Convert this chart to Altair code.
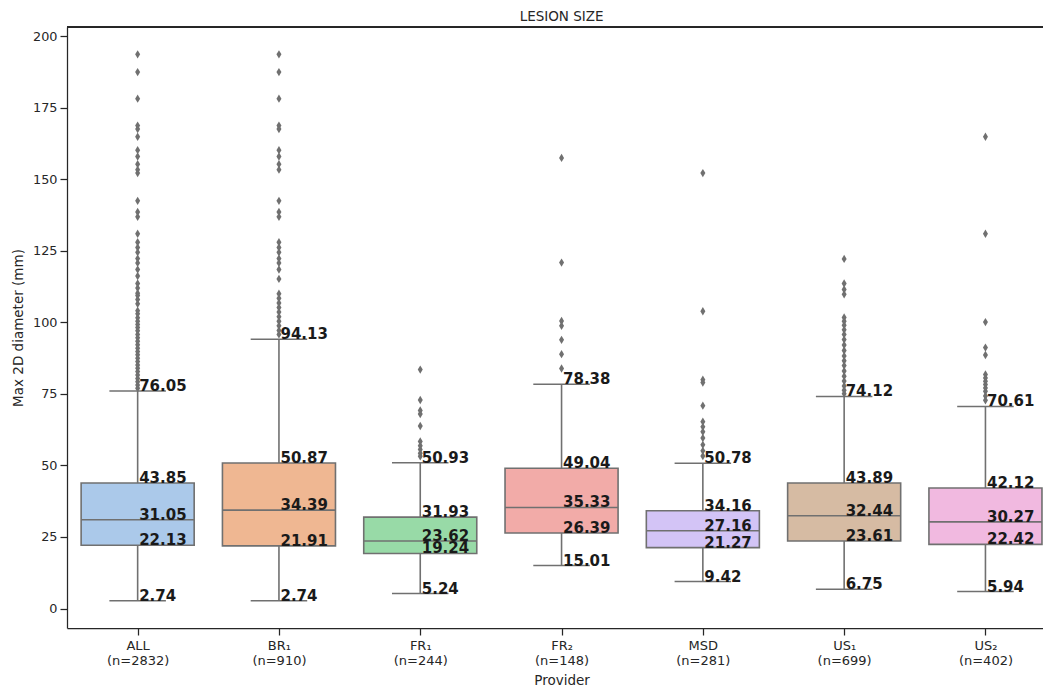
import colorsys

import altair as alt
import pandas as pd

# ---- box statistics per provider -------------------------------------------
providers = ["ALL", "BR₁", "FR₁", "FR₂", "MSD", "US₁", "US₂"]
counts = [2832, 910, 244, 148, 281, 699, 402]
whisker_low = [2.74, 2.74, 5.24, 15.01, 9.42, 6.75, 5.94]
q1 = [22.13, 21.91, 19.24, 26.39, 21.27, 23.61, 22.42]
median = [31.05, 34.39, 23.62, 35.33, 27.16, 32.44, 30.27]
q3 = [43.85, 50.87, 31.93, 49.04, 34.16, 43.89, 42.12]
whisker_high = [76.05, 94.13, 50.93, 78.38, 50.78, 74.12, 70.61]

# ---- fliers (values beyond the upper whisker) ------------------------------
fliers_all = [193.7, 187.5, 178.2, 168.8, 167.6, 164.9, 160.2, 158.0, 155.3,
              153.4, 152.2, 142.5, 138.6, 136.9, 131.0, 128.0, 126.2, 124.5,
              122.3, 120.8, 118.5, 116.2, 113.6, 112.0, 110.2, 109.4, 108.0,
              106.5, 104.1, 103.0, 101.6, 100.4, 99.3, 98.2, 97.1, 95.8, 94.6,
              93.4, 92.2, 91.0, 89.8, 88.7, 87.5, 86.3, 85.1, 84.0, 82.8, 81.6,
              80.4, 79.3, 78.1, 77.0]
fliers_br1 = [193.7, 187.5, 178.2, 168.8, 167.6, 160.2, 158.0, 155.3, 153.4,
              142.5, 138.6, 136.9, 128.0, 126.2, 124.5, 122.3, 120.8, 118.5,
              115.2, 110.0, 108.4, 106.8, 105.2, 103.6, 102.0, 100.4, 98.8,
              97.2, 95.8]
fliers_fr1 = [83.5, 72.9, 69.2, 68.0, 63.8, 58.4, 56.9, 55.6, 54.3, 53.2]
fliers_fr2 = [157.5, 120.9, 100.5, 98.8, 93.9, 88.9, 83.9]
fliers_msd = [152.2, 103.9, 80.0, 79.0, 70.9, 65.3, 63.5, 61.8, 59.6, 57.2,
              55.1, 53.3]
fliers_us1 = [122.2, 113.6, 111.5, 109.8, 101.7, 100.4, 99.0, 97.4, 95.8, 94.0,
              92.1, 90.2, 88.3, 86.6, 84.9, 83.0, 81.2, 79.5, 77.8, 76.3, 75.1]
fliers_us2 = [164.9, 131.0, 100.1, 91.2, 88.6, 81.8, 80.6, 79.4, 78.3, 77.1,
              75.9, 74.3, 72.8]
fliers = [fliers_all, fliers_br1, fliers_fr1, fliers_fr2, fliers_msd,
          fliers_us1, fliers_us2]

# seaborn "pastel" palette, desaturated the way boxplot does (0.75)
pastel = ["#a1c9f4", "#ffb482", "#8de5a1", "#ff9f9b", "#d0bbff", "#debb9b",
          "#fab0e4"]


def desaturate(hex_color, prop=0.75):
    r, g, b = (int(hex_color[i:i + 2], 16) / 255 for i in (1, 3, 5))
    h, l, s = colorsys.rgb_to_hls(r, g, b)
    r, g, b = colorsys.hls_to_rgb(h, l, s * prop)
    return "#{:02x}{:02x}{:02x}".format(*(round(c * 255) for c in (r, g, b)))


GRAY = "#707070"
INK = "#262626"
FONT = "DejaVu Sans"
PLOT_W, PLOT_H = 976, 601
STEP = 141.3                       # pixels per category
X_MAX = -0.5 + PLOT_W / STEP

pos = list(range(len(providers)))
boxes = pd.DataFrame({
    "pos": pos,
    "provider": providers,
    "lo": whisker_low, "q1": q1, "median": median, "q3": q3,
    "hi": whisker_high,
    "color": [desaturate(c) for c in pastel],
})
boxes["left"] = boxes["pos"] - 0.4
boxes["right"] = boxes["pos"] + 0.4
boxes["cap_l"] = boxes["pos"] - 0.2
boxes["cap_r"] = boxes["pos"] + 0.2

flier_df = pd.DataFrame(
    [{"pos": i, "value": v} for i, vals in enumerate(fliers) for v in vals]
)

label_df = pd.DataFrame(
    [{"pos": i, "value": v}
     for i in pos
     for v in (whisker_low[i], q1[i], median[i], q3[i], whisker_high[i])]
)

xscale = alt.Scale(domain=[-0.5, X_MAX], nice=False, zero=False)
yscale = alt.Scale(domain=[-6.81, 203.25], nice=False, zero=False)

tick_text = ",".join(
    f"['{p}','(n={n})']" for p, n in zip(providers, counts)
)
xaxis = alt.Axis(
    values=pos, labelExpr=f"[{tick_text}][datum.value]",
    labelOverlap=False, labelFlush=False, tickSize=7, labelPadding=4,
    labelLineHeight=15, labelFontSize=13,
    titleX=494.6, titleY=52, titleBaseline="middle", titleAlign="center",
)
yaxis = alt.Axis(
    values=list(range(0, 201, 25)), tickSize=7, labelPadding=3,
    labelFontSize=12.8, labelFlush=False,
    titleX=-49, titleY=300.5, titleAngle=270, titleBaseline="middle",
    titleAlign="center",
)
X_TITLE = "Provider"
Y_TITLE = "Max 2D diameter (mm)"


def xenc(field):
    return alt.X(field, type="quantitative", scale=xscale, axis=xaxis,
                 title=X_TITLE)


def yenc(field):
    return alt.Y(field, type="quantitative", scale=yscale, axis=yaxis,
                 title=Y_TITLE)


base = alt.Chart(boxes)

box_layer = base.mark_rect(stroke=GRAY, strokeWidth=1.6).encode(
    x=xenc("left"), x2="right:Q",
    y=yenc("q1"), y2="q3:Q",
    fill=alt.Fill("color:N", scale=None),
)

rule_style = dict(color=GRAY, strokeWidth=1.6)
lower_whisker = base.mark_rule(**rule_style).encode(
    x=xenc("pos"), y=yenc("lo"), y2="q1:Q",
)
upper_whisker = base.mark_rule(**rule_style).encode(
    x=xenc("pos"), y=yenc("q3"), y2="hi:Q",
)
lower_cap = base.mark_rule(**rule_style).encode(
    x=xenc("cap_l"), x2="cap_r:Q", y=yenc("lo"),
)
upper_cap = base.mark_rule(**rule_style).encode(
    x=xenc("cap_l"), x2="cap_r:Q", y=yenc("hi"),
)
median_line = base.mark_rule(**rule_style).encode(
    x=xenc("left"), x2="right:Q", y=yenc("median"),
)

flier_layer = alt.Chart(flier_df).mark_point(
    shape="M0,-1L0.6,0L0,1L-0.6,0Z", filled=True, size=70, color=GRAY,
    opacity=1,
).encode(
    x=xenc("pos"), y=yenc("value"),
)

label_layer = alt.Chart(label_df).mark_text(
    align="left", baseline="alphabetic", font=FONT, fontSize=15,
    fontWeight="bold", color="#1a1a1a", dx=1.5,
).encode(
    x=xenc("pos"), y=yenc("value"),
    text=alt.Text("value:Q", format=".2f"),
)

top_spine = alt.Chart(boxes).mark_rule(color=INK, strokeWidth=1.25).encode(
    x=alt.value(0), x2=alt.value(PLOT_W), y=alt.value(0),
)

chart = alt.layer(
    box_layer, lower_whisker, upper_whisker, lower_cap, upper_cap,
    median_line, flier_layer, label_layer, top_spine,
).properties(
    width=PLOT_W,
    height=PLOT_H,
    autosize=alt.AutoSizeParams(type="none"),
    padding={"left": 67, "top": 27, "right": 0, "bottom": 62},
    title=alt.TitleParams(
        "LESION SIZE", font=FONT, fontSize=13.5, fontWeight="normal",
        color=INK, anchor="middle", frame="group", dx=6.6, dy=16.3,
        offset=7.7, baseline="alphabetic",
    ),
).configure_view(
    stroke=None,
).configure_axis(
    grid=False, domainColor=INK, domainWidth=1.25, tickColor=INK,
    tickWidth=1.25, labelColor=INK, titleColor=INK, labelFont=FONT,
    titleFont=FONT, titleFontSize=13.5, titleFontWeight="normal",
)

chart.save("out.html", embed_options={"renderer": "svg", "actions": False})
